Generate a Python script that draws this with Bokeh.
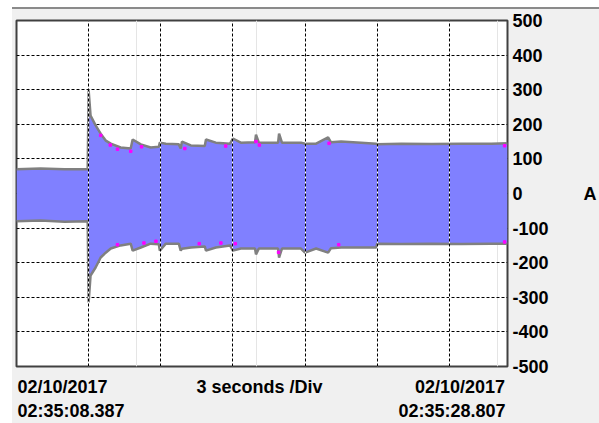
from bokeh.plotting import figure
from bokeh.models import Range1d, FixedTicker, Grid, LinearAxis, ColumnDataSource
from bokeh.embed import file_html
from bokeh.resources import INLINE

# ---- data ----
time_s = [0.0, 1.0, 2.0, 2.96, 3.0, 3.08, 3.29, 3.5, 3.71, 3.92, 4.33, 4.75, 4.83, 5.17,
          5.58, 5.92, 5.96, 6.21, 6.75, 6.83, 6.88, 7.25, 7.83, 7.88, 8.29, 8.88, 9.0,
          9.33, 9.92, 9.96, 10.08, 10.88, 10.92, 11.04, 11.83, 12.0, 12.46, 12.96, 13.08,
          13.5, 14.33, 14.96, 15.0, 16.0, 17.25, 18.5, 19.75, 20.42]
upper_a = [70, 72, 70, 70, 298, 225, 197, 173, 153, 144, 133, 130, 156, 142,
           133, 135, 147, 144, 142, 130, 150, 139, 137, 156, 147, 144, 159,
           147, 148, 170, 147, 147, 173, 147, 147, 144, 144, 162, 148,
           150, 147, 144, 142, 144, 143, 144, 144, 145]
lower_a = [-80, -78, -82, -80, -315, -237, -214, -185, -171, -159, -150, -145, -165, -156,
           -145, -147, -165, -145, -145, -165, -160, -156, -153, -165, -156, -150, -165,
           -159, -159, -176, -159, -159, -185, -159, -159, -171, -159, -171, -158,
           -156, -156, -156, -145, -146, -145, -146, -145, -145]
speck_t = [3.5, 3.9, 4.2, 4.75, 5.2, 7.0, 8.7, 9.96, 10.1, 13.0, 20.3,
           4.2, 5.3, 5.8, 7.6, 8.5, 9.1, 10.9, 13.4, 20.3]
speck_v = [168, 140, 128, 122, 135, 130, 137, 150, 140, 145, 138,
           -148, -143, -138, -145, -143, -145, -170, -148, -140]
y_ticks = [-500, -400, -300, -200, -100, 0, 100, 200, 300, 400, 500]
y_tick_labels = ["-500", "-400", "-300", "-200", "-100", "0", "100", "200", "300", "400", "500"]
x_divs = [3, 6, 9, 12, 15, 18]
t_start = 0.0
t_end = 20.42
left_date, left_time = "02/10/2017", "02:35:08.387"
right_date, right_time = "02/10/2017", "02:35:28.807"
div_text = "3 seconds /Div"
unit_text = "A"

src = ColumnDataSource(dict(t=time_s, up=upper_a, lo=lower_a))

panel_bg = ("linear-gradient(#8a8a8a,#8a8a8a) 12px 7px / 100% 2px no-repeat, "
            "linear-gradient(#f0f0f0,#f0f0f0) 12px 9px / 100% 100% no-repeat, #ffffff")

p = figure(width=599, height=423, x_range=Range1d(t_start, t_end), y_range=Range1d(-500, 500),
           x_axis_location=None, y_axis_location="right", toolbar_location=None,
           output_backend="svg", min_border_left=16, min_border_right=92,
           min_border_top=20, min_border_bottom=57, styles={"background": panel_bg})
p.background_fill_color = "white"
p.border_fill_color = None
p.outline_line_color = "#404040"
p.outline_line_width = 2

FONT = "Liberation Sans"

ax = p.yaxis[0]
ax.ticker = FixedTicker(ticks=y_ticks)
ax.major_label_overrides = {t: s for t, s in zip(y_ticks, y_tick_labels)}
ax.axis_line_color = None
ax.major_tick_line_color = None
ax.minor_tick_line_color = None
ax.major_tick_out = 0
ax.major_tick_in = 0
ax.minor_tick_out = 0
ax.major_label_standoff = 5
ax.major_label_text_font = FONT
ax.major_label_text_font_style = "bold"
ax.major_label_text_font_size = "18px"
ax.major_label_text_color = "black"
ax.axis_label = unit_text
ax.axis_label_orientation = "horizontal"
ax.axis_label_standoff = 32
ax.axis_label_text_font = FONT
ax.axis_label_text_font_style = "bold"
ax.axis_label_text_font_size = "18px"
ax.axis_label_text_color = "black"

p.ygrid.grid_line_color = "black"
p.ygrid.grid_line_dash = "3 2"
p.ygrid.grid_line_width = 1

# signal envelope
p.varea(x="t", y1="lo", y2="up", source=src, fill_color="#8080ff")
p.line(x="t", y="up", source=src, line_color="#808080", line_width=2.5)
p.line(x="t", y="lo", source=src, line_color="#808080", line_width=2.5)
p.scatter(speck_t, speck_v, marker="square", size=2.5, color="#ff00ff")

# vertical division lines drawn over the signal
gw = Grid(dimension=0, ticker=FixedTicker(ticks=x_divs), grid_line_color="white",
          grid_line_width=1, level="annotation")
gb = Grid(dimension=0, ticker=FixedTicker(ticks=x_divs), grid_line_color="black",
          grid_line_dash="3 2", grid_line_width=1, level="annotation")
p.add_layout(gw)
p.add_layout(gb)

# bottom text rows as two label-only axes
tpp = (t_end - t_start) / 491.0


def tx(px):
    return t_start + (px - 16) * tpp


row1 = [tx(62), tx(259), tx(459.5)]
row2 = [tx(70.5), tx(451.5)]


def text_axis(ticks, labels, standoff):
    a = LinearAxis(ticker=FixedTicker(ticks=ticks),
                   major_label_overrides={t: s for t, s in zip(ticks, labels)})
    a.axis_line_color = None
    a.major_tick_line_color = None
    a.minor_tick_line_color = None
    a.major_tick_out = 0
    a.major_tick_in = 0
    a.minor_tick_out = 0
    a.major_label_standoff = standoff
    a.major_label_text_font = FONT
    a.major_label_text_font_style = "bold"
    a.major_label_text_font_size = "18px"
    a.major_label_text_color = "black"
    return a


p.add_layout(text_axis(row1, [left_date, div_text, right_date], 10), "below")
p.add_layout(text_axis(row2, [left_time, right_time], 1), "below")

open("out.html", "w").write(file_html(p, INLINE))
